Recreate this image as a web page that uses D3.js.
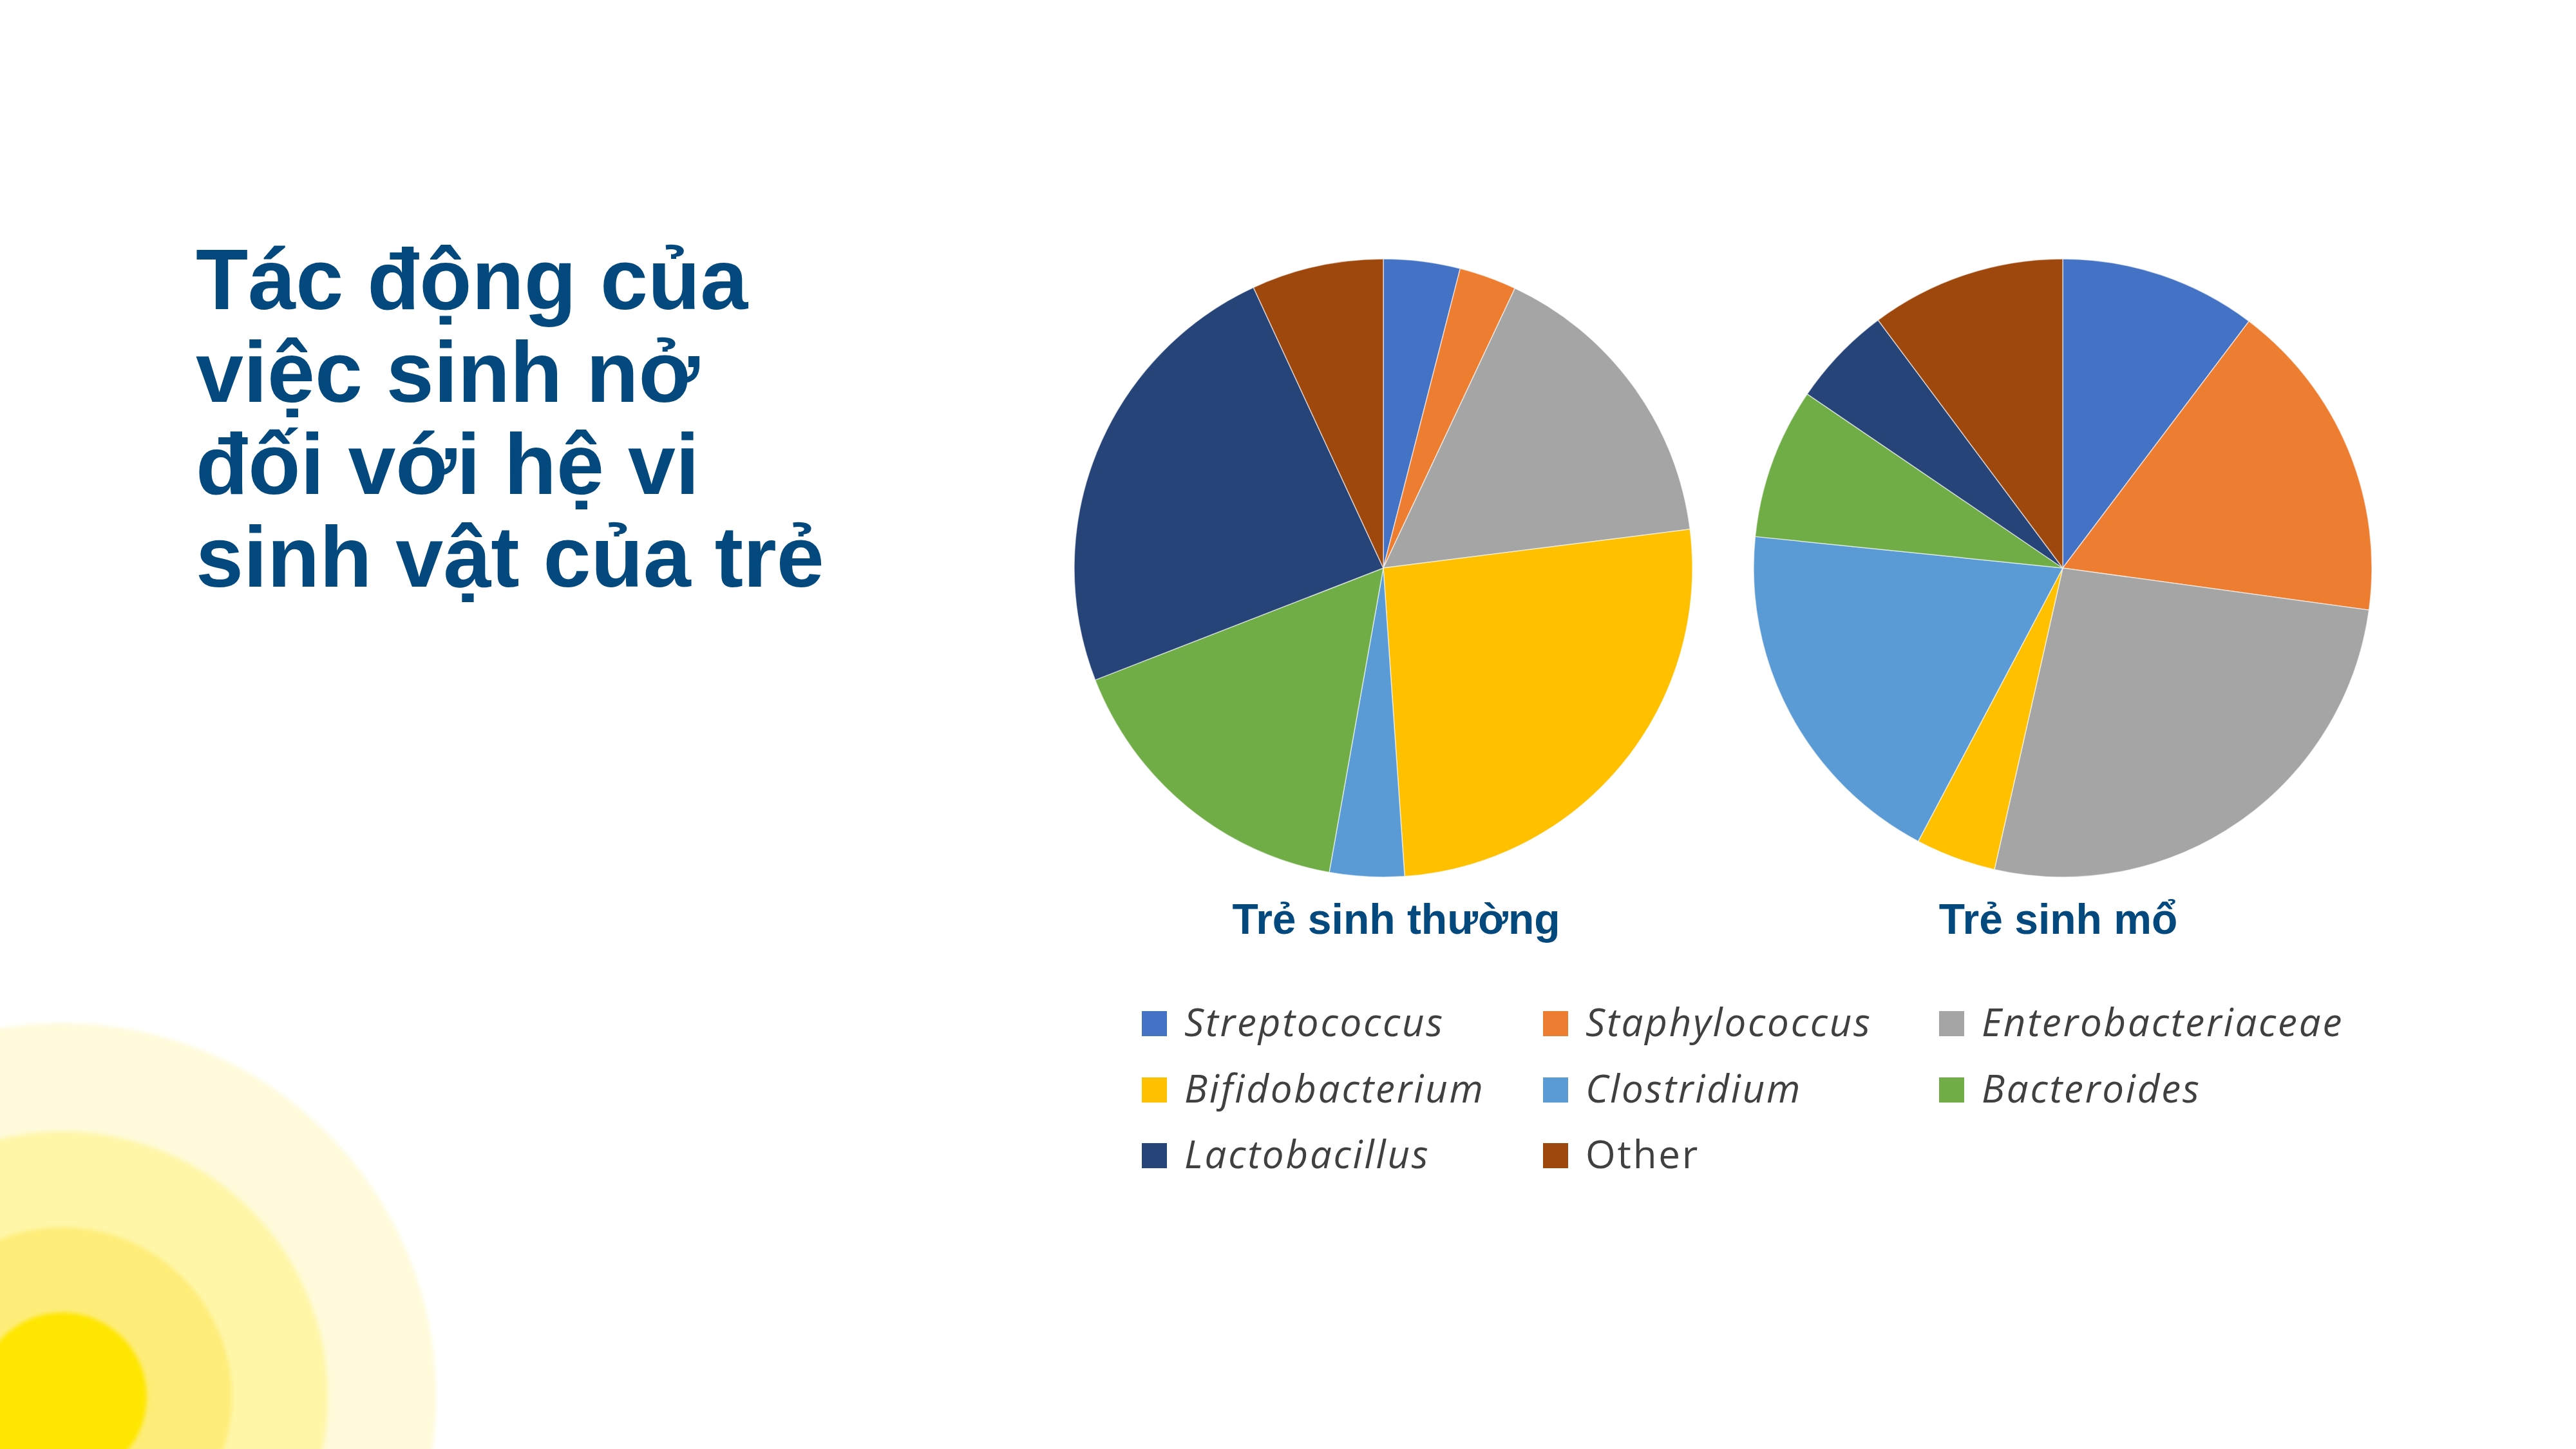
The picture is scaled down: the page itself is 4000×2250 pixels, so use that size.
<!DOCTYPE html>
<html>
<head>
<meta charset="utf-8">
<script src="https://cdn.jsdelivr.net/npm/d3@7"></script>
<style>
  html, body { margin: 0; padding: 0; background: #ffffff; }
  svg { display: block; }
</style>
</head>
<body>
<div id="chart-container"></div>
<script>
// Dữ liệu: tỷ lệ (%) các nhóm vi khuẩn đường ruột ở trẻ
const categories = ["Streptococcus", "Staphylococcus", "Enterobacteriaceae",
                    "Bifidobacterium", "Clostridium", "Bacteroides",
                    "Lactobacillus", "Other"];
const normalBirth = [4.0, 3.0, 16.0, 25.9, 3.9, 16.3, 24.0, 6.9];
const cSection    = [10.3, 16.9, 26.4, 4.2, 18.9, 7.9, 5.3, 10.2];
const pieTitles = ["Trẻ sinh thường", "Trẻ sinh mổ"];
const titleLines = ["Tác động của", "việc sinh nở", "đối với hệ vi", "sinh vật của trẻ"];

const colors = ["#4472C4", "#ED7D31", "#A5A5A5", "#FFC000",
                "#5B9BD5", "#70AD47", "#264478", "#9E480E"];

// 1. Kích thước
const width = 4000, height = 2250;
const radius = 480;

const svg = d3.select("#chart-container")
    .append("svg")
    .attr("width", width)
    .attr("height", height);

// 2. Trang trí góc dưới trái (các vòng tròn vàng)
const rings = [
    { r: 580, c: "#FFFADA" },
    { r: 412, c: "#FFF6A8" },
    { r: 263, c: "#FEED79" },
    { r: 131, c: "#FFE600" }
];
const defs = svg.append("defs");
defs.append("filter")
    .attr("id", "soft")
    .append("feGaussianBlur")
    .attr("stdDeviation", 3);

svg.append("g")
    .selectAll("circle")
    .data(rings)
    .enter()
    .append("circle")
    .attr("cx", 97)
    .attr("cy", 2169)
    .attr("r", d => d.r)
    .attr("fill", d => d.c)
    .attr("filter", "url(#soft)");

// 3. Tiêu đề
svg.append("text")
    .attr("x", 304)
    .attr("y", 480)
    .attr("fill", "#03497D")
    .style("font-family", "'Liberation Sans', Arial, sans-serif")
    .style("font-weight", "bold")
    .style("font-size", "133px")
    .selectAll("tspan")
    .data(titleLines)
    .enter()
    .append("tspan")
    .attr("x", 304)
    .attr("dy", (d, i) => i === 0 ? 0 : 143.5)
    .text(d => d);

// 4. Hai biểu đồ tròn
const pie = d3.pie().sort(null).value(d => d);
const arc = d3.arc().innerRadius(0).outerRadius(radius);

const pies = [
    { values: normalBirth, cx: 2148, label: pieTitles[0], lx: 2168 },
    { values: cSection,    cx: 3203, label: pieTitles[1], lx: 3196 }
];

pies.forEach(p => {
    const g = svg.append("g")
        .attr("transform", `translate(${p.cx}, 882)`);

    g.selectAll("path")
        .data(pie(p.values))
        .enter()
        .append("path")
        .attr("d", arc)
        .attr("fill", (d, i) => colors[i])
        .attr("stroke", "#ffffff")
        .attr("stroke-width", 1.5)
        .attr("stroke-opacity", 0.6);

    svg.append("text")
        .attr("x", p.lx)
        .attr("y", 1450)
        .attr("text-anchor", "middle")
        .attr("fill", "#03497D")
        .style("font-family", "'Liberation Sans', Arial, sans-serif")
        .style("font-weight", "bold")
        .style("font-size", "66px")
        .text(p.label);
});

// 5. Chú giải
const colX = [1773, 2396, 3011];
const rowY = [1570, 1673, 1775];
const box = 39;

const legend = svg.append("g")
    .selectAll("g")
    .data(categories)
    .enter()
    .append("g")
    .attr("transform", (d, i) => `translate(${colX[i % 3]}, ${rowY[Math.floor(i / 3)]})`);

legend.append("rect")
    .attr("width", box)
    .attr("height", box)
    .attr("fill", (d, i) => colors[i]);

legend.append("text")
    .attr("x", 66)
    .attr("y", box)
    .attr("fill", "#404040")
    .style("font-family", "'Open Sans', sans-serif")
    .style("font-style", d => d === "Other" ? "normal" : "italic")
    .style("font-size", "60px")
    .style("letter-spacing", "2.8px")
    .text(d => d);
</script>
</body>
</html>
